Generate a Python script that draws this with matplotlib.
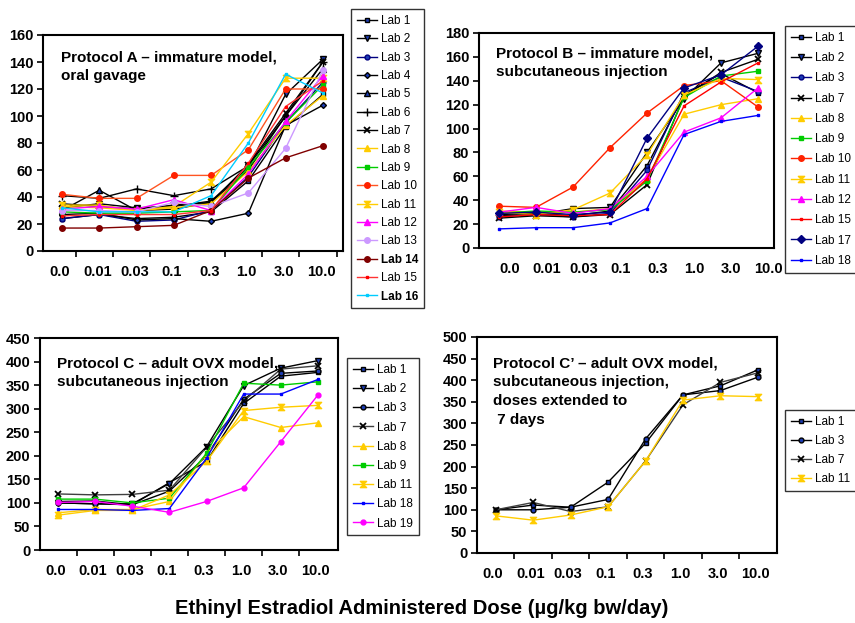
import matplotlib
matplotlib.use('Agg')
import matplotlib.pyplot as plt
from matplotlib.path import Path
import numpy as np

plt.rcParams['font.family'] = ['Liberation Sans', 'DejaVu Sans']

# ---------------- data ----------------
doses = ['0.0', '0.01', '0.03', '0.1', '0.3', '1.0', '3.0', '10.0']

A_labs = ['Lab 1', 'Lab 2', 'Lab 3', 'Lab 4', 'Lab 5', 'Lab 6', 'Lab 7', 'Lab 8',
          'Lab 9', 'Lab 10', 'Lab 11', 'Lab 12', 'Lab 13', 'Lab 14', 'Lab 15', 'Lab 16']
A_values = [
    [24, 27, 24, 25, 29, 52, 92, 116],
    [32, 35, 32, 33, 37, 62, 116, 142],
    [24, 27, 22, 23, 30, 55, 95, 125],
    [27, 28, 23, 24, 22, 28, 93, 108],
    [30, 45, 30, 31, 36, 60, 100, 135],
    [41, 39, 46, 41, 46, 63, 100, 140],
    [35, 33, 31, 34, 36, 64, 102, 140],
    [33, 32, 30, 32, 35, 59, 93, 115],
    [29, 28, 28, 29, 30, 62, 95, 123],
    [42, 39, 39, 56, 56, 75, 120, 120],
    [34, 34, 30, 33, 51, 87, 128, 128],
    [31, 33, 31, 38, 30, 57, 96, 130],
    [30, 30, 29, 36, 33, 43, 76, 134],
    [17, 17, 18, 19, 30, 54, 69, 78],
    [26, 27, 27, 27, 30, 65, 107, 126],
    [32, 29, 29, 29, 41, 80, 131, 117],
]

B_labs = ['Lab 1', 'Lab 2', 'Lab 3', 'Lab 7', 'Lab 8', 'Lab 9', 'Lab 10', 'Lab 11',
          'Lab 12', 'Lab 15', 'Lab 17', 'Lab 18']
B_values = [
    [28, 29, 27, 31, 69, 128, 146, 130],
    [27, 28, 33, 34, 80, 125, 155, 163],
    [26, 28, 26, 29, 65, 130, 143, 131],
    [25, 27, 26, 28, 53, 127, 147, 158],
    [31, 30, 30, 33, 58, 112, 120, 125],
    [29, 31, 30, 32, 56, 126, 144, 148],
    [35, 34, 51, 84, 113, 136, 140, 118],
    [30, 28, 32, 46, 78, 128, 142, 141],
    [30, 34, 29, 33, 60, 97, 109, 134],
    [26, 28, 27, 28, 58, 119, 139, 155],
    [29, 30, 28, 30, 92, 134, 145, 169],
    [16, 17, 17, 21, 33, 95, 106, 111],
]

C_labs = ['Lab 1', 'Lab 2', 'Lab 3', 'Lab 7', 'Lab 8', 'Lab 9', 'Lab 11', 'Lab 18', 'Lab 19']
C_values = [
    [103, 104, 96, 143, 188, 311, 369, 377],
    [100, 98, 98, 141, 219, 349, 386, 402],
    [100, 98, 96, 125, 200, 320, 375, 380],
    [119, 117, 118, 127, 218, 316, 384, 391],
    [79, 86, 86, 103, 205, 283, 260, 270],
    [108, 108, 100, 110, 205, 354, 350, 357],
    [74, 84, 84, 117, 188, 296, 303, 307],
    [86, 86, 84, 88, 195, 331, 331, 362],
    [101, 103, 93, 80, 103, 132, 230, 329],
]

D_labs = ['Lab 1', 'Lab 3', 'Lab 7', 'Lab 11']
D_values = [
    [100, 111, 106, 164, 254, 366, 387, 424],
    [100, 100, 106, 124, 264, 366, 376, 407],
    [100, 117, 96, 107, 213, 343, 395, 417],
    [86, 76, 88, 107, 213, 354, 364, 362],
]

# ---------------- styles ----------------
MB = '#1c3cb4'
HOUR = Path([(-1, 1), (1, 1), (-1, -1), (1, -1), (-1, 1)],
            [Path.MOVETO, Path.LINETO, Path.LINETO, Path.LINETO, Path.CLOSEPOLY])
GOLD = '#ffcc00'
styles = {
    'Lab 1': dict(color='black', marker='s', mfc=MB, mec='black', ms=3.5),
    'Lab 2': dict(color='black', marker='v', mfc=MB, mec='black', ms=4),
    'Lab 3': dict(color='#000080', marker='o', mfc=MB, mec='#000080', ms=3.5),
    'Lab 4': dict(color='black', marker='D', mfc=MB, mec='black', ms=3),
    'Lab 5': dict(color='black', marker='^', mfc=MB, mec='black', ms=4),
    'Lab 6': dict(color='black', marker='+', mec='black', ms=5.5),
    'Lab 7': dict(color='black', marker='x', mec='black', ms=4, mew=1.3),
    'Lab 8': dict(color=GOLD, marker='^', mfc=GOLD, mec=GOLD, ms=4.5),
    'Lab 9': dict(color='#00cc00', marker='s', mfc='#00cc00', mec='#00cc00', ms=3.5),
    'Lab 10': dict(color='#ff2200', marker='o', mfc='#ff2200', mec='#ff2200', ms=4),
    'Lab 11': dict(color=GOLD, marker=HOUR, mfc=GOLD, mec=GOLD, ms=4.5),
    'Lab 12': dict(color='#ff00ff', marker='^', mfc='#ff00ff', mec='#ff00ff', ms=4.5),
    'Lab 13': dict(color='#cc99ff', marker='o', mfc='#cc99ff', mec='#cc99ff', ms=4),
    'Lab 14': dict(color='#800000', marker='o', mfc='#800000', mec='#800000', ms=4),
    'Lab 15': dict(color='#ff0000', marker='s', mfc='#ff0000', mec='#ff0000', ms=1.8),
    'Lab 16': dict(color='#00ccff', marker='s', mfc='#00ccff', mec='#00ccff', ms=1.8),
    'Lab 17': dict(color='#000080', marker='D', mfc='#000080', mec='#000080', ms=4.5),
    'Lab 18': dict(color='#0000ff', marker='s', mfc='#0000ff', mec='#0000ff', ms=1.8),
    'Lab 19': dict(color='#ff00ff', marker='o', mfc='#ff00ff', mec='#ff00ff', ms=3.5),
}
overrides = {
    'A': {'Lab 10': dict(color='#ff5522', mfc='#ff2200', mec='#ff2200'),
          'Lab 15': dict(color='#ff3333')},
    'C': {'Lab 3': dict(color='black', mec='black'),
          'Lab 7': dict(color='#404040')},
    'D': {'Lab 3': dict(color='black', mec='black'),
          'Lab 7': dict(color='#404040')},
}

W, H = 855, 623
fig = plt.figure(figsize=(W / 100, H / 100), dpi=100)


def fig_rect(l, t, r, b):
    return [l / W, 1 - b / H, (r - l) / W, (b - t) / H]


def panel(key, rect, labs, values, xlim, ylim, yticks, label_off, tick_pos,
          text, text_xy, leg_xy, leg_spacing, bold_labels=()):
    ax = fig.add_axes(fig_rect(*rect))
    x = np.arange(len(doses))
    for lab, vals in zip(labs, values):
        st = dict(styles[lab])
        st.update(overrides.get(key, {}).get(lab, {}))
        ax.plot(x, vals, lw=1.0, label=lab, **st)
    ax.set_xlim(*xlim)
    ax.set_ylim(*ylim)
    ax.set_yticks(yticks)
    ax.set_xticks(x + label_off)
    ax.set_xticklabels(doses)
    ax.tick_params(axis='x', which='major', length=0, pad=10, labelsize=10.5)
    ax.set_xticks(tick_pos, minor=True)
    ax.tick_params(axis='x', which='minor', length=4, width=1.2, direction='out')
    ax.tick_params(axis='y', length=4, width=1.2, direction='out', pad=3, labelsize=10.5)
    for t in ax.get_xticklabels() + ax.get_yticklabels():
        t.set_fontweight('bold')
    for s in ax.spines.values():
        s.set_linewidth(1.5)
    ax.text(text_xy[0], text_xy[1], text, transform=fig.transFigure,
            fontsize=11, fontweight='bold', ha='left', va='top', linespacing=1.45)
    leg = fig.legend(*ax.get_legend_handles_labels(), loc='upper left',
                     bbox_to_anchor=leg_xy, bbox_transform=fig.transFigure,
                     borderaxespad=0, fontsize=8.5, frameon=True, fancybox=False,
                     edgecolor='black', handlelength=1.7, handletextpad=0.35,
                     labelspacing=leg_spacing, borderpad=0.5, numpoints=1)
    leg.get_frame().set_linewidth(1.0)
    for t in leg.get_texts():
        if t.get_text() in bold_labels:
            t.set_fontweight('bold')
    return ax


panel('A', (43, 35, 343, 251), A_labs, A_values, (-0.51, 7.54), (0, 160),
      range(0, 161, 20), -0.05, np.arange(0, 8) + 0.37,
      'Protocol A \u2013 immature model,\noral gavage', (61 / W, 1 - 50 / H),
      (351 / W, 1 - 9 / H), 0.54, bold_labels=('Lab 14', 'Lab 16'))

panel('B', (479, 33, 774, 248), B_labs, B_values, (-0.54, 7.43), (0, 180),
      range(0, 181, 20), 0.28, np.arange(0, 8) + 0.28,
      'Protocol B \u2013 immature model,\nsubcutaneous injection', (496 / W, 1 - 46 / H),
      (785 / W, 1 - 26 / H), 0.70)

panel('C', (40, 338, 338, 550), C_labs, C_values, (-0.485, 7.54), (0, 450),
      range(0, 451, 50), -0.07, np.arange(0, 7) + 0.5,
      'Protocol C \u2013 adult OVX model,\nsubcutaneous injection', (57 / W, 1 - 356 / H),
      (347 / W, 1 - 358 / H), 0.61)

panel('D', (477, 337, 777, 553), D_labs, D_values, (-0.5, 7.51), (0, 500),
      range(0, 501, 50), -0.07, np.arange(0, 7) + 0.5,
      'Protocol C\u2019 \u2013 adult OVX model,\nsubcutaneous injection,\ndoses extended to\n 7 days',
      (493 / W, 1 - 356 / H), (785 / W, 1 - 410 / H), 0.60)

fig.text(422 / W, 1 - 608 / H, 'Ethinyl Estradiol Administered Dose (\u00b5g/kg bw/day)',
         ha='center', va='center', fontsize=14.5, fontweight='bold')

fig.savefig('out.png', dpi=100)
